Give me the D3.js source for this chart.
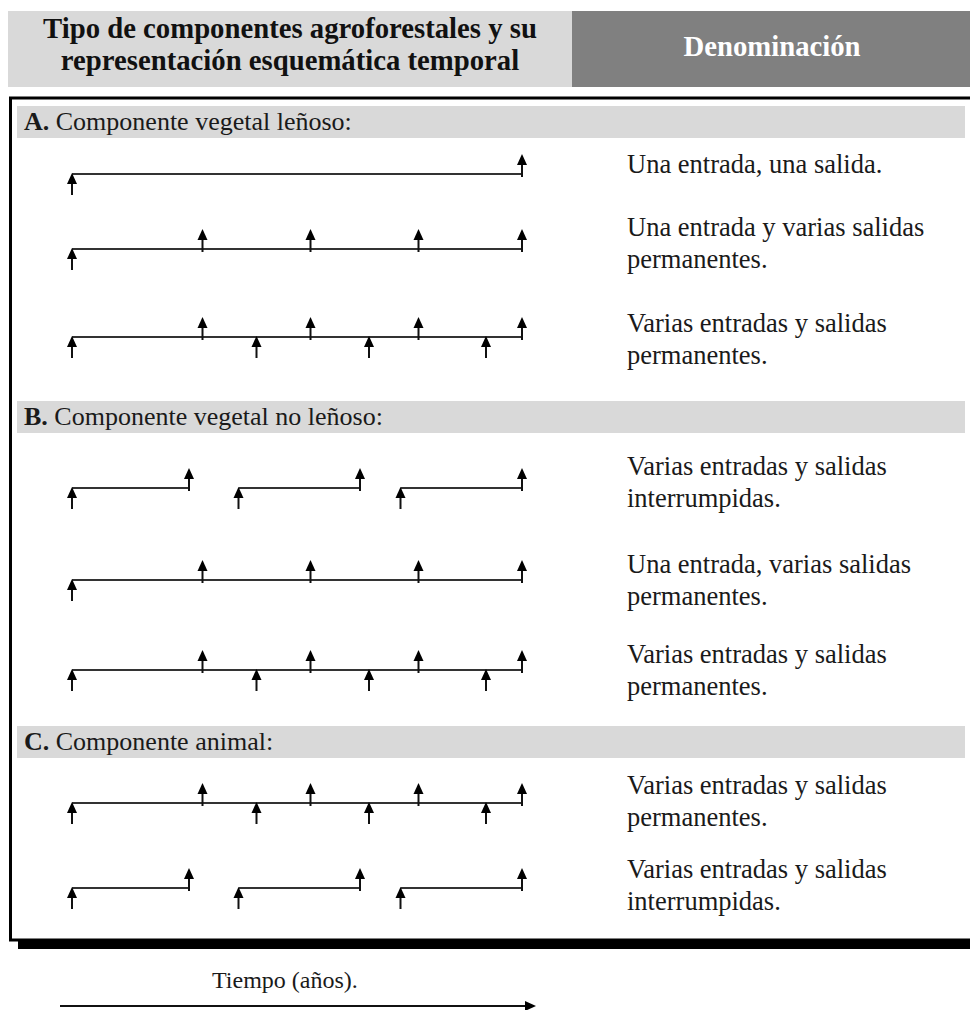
<!DOCTYPE html>
<html><head><meta charset="utf-8">
<script src="https://cdn.jsdelivr.net/npm/d3@7"></script>
<style>html,body{margin:0;padding:0;background:#fff}svg{display:block}</style>
</head><body>
<svg id="chart" width="970" height="1010"></svg>
<script>
// ---------- data ----------
const headerLeft = ["Tipo de componentes agroforestales y su", "representación esquemática temporal"];
const headerRight = "Denominación";
const sectionKeys = ["A.", "B.", "C."];
const sectionTitles = ["Componente vegetal leñoso:", "Componente vegetal no leñoso:", "Componente animal:"];
const rowSection = [0, 0, 0, 1, 1, 1, 2, 2];
const rowSegments = [
  [[0, 100]], [[0, 100]], [[0, 100]],
  [[0, 26], [37, 64], [73, 100]], [[0, 100]], [[0, 100]],
  [[0, 100]], [[0, 26], [37, 64], [73, 100]]
];
const rowEntries = [[0], [0], [0, 41, 66, 92], [0, 37, 73], [0], [0, 41, 66, 92], [0, 41, 66, 92], [0, 37, 73]];
const rowExits = [[100], [29, 53, 77, 100], [29, 53, 77, 100], [26, 64, 100], [29, 53, 77, 100], [29, 53, 77, 100], [29, 53, 77, 100], [26, 64, 100]];
const rowLabels = [
  ["Una entrada, una salida."],
  ["Una entrada y varias salidas", "permanentes."],
  ["Varias entradas y salidas", "permanentes."],
  ["Varias entradas y salidas", "interrumpidas."],
  ["Una entrada, varias salidas", "permanentes."],
  ["Varias entradas y salidas", "permanentes."],
  ["Varias entradas y salidas", "permanentes."],
  ["Varias entradas y salidas", "interrumpidas."]
];
const timeLabel = "Tiempo (años).";
const timeDomain = [0, 100];

// ---------- layout ----------
const rowY = [174, 249, 337, 488, 580, 670, 803, 888];
const rowTextY = [173, 236, 332, 475, 573, 663, 794, 878];
const sectionTop = [106, 401, 726];
const serif = "'Liberation Serif', 'Times New Roman', serif";

const svg = d3.select("#chart");
const x = d3.scaleLinear().domain(timeDomain).range([72, 522]);

// header
svg.append("rect").attr("x", 8).attr("y", 11).attr("width", 564).attr("height", 76).attr("fill", "#d9d9d9");
svg.append("rect").attr("x", 572).attr("y", 11).attr("width", 398).attr("height", 76).attr("fill", "#808080");

function fit(sel, target) {
  const node = sel.node();
  const fs = parseFloat(sel.attr("font-size"));
  const w = node.getComputedTextLength();
  sel.attr("font-size", (fs * target / w).toFixed(2));
}
const h1 = svg.append("text").attr("x", 290).attr("y", 38).attr("text-anchor", "middle")
  .attr("font-family", serif).attr("font-weight", "bold").attr("font-size", 28).attr("fill", "#111")
  .text(headerLeft[0]);
fit(h1, 494);
const hfs = h1.attr("font-size");
svg.append("text").attr("x", 290).attr("y", 70).attr("text-anchor", "middle")
  .attr("font-family", serif).attr("font-weight", "bold").attr("font-size", hfs).attr("fill", "#111")
  .text(headerLeft[1]);
svg.append("text").attr("x", 772).attr("y", 56).attr("text-anchor", "middle")
  .attr("font-family", serif).attr("font-weight", "bold").attr("font-size", hfs).attr("fill", "#fff")
  .text(headerRight);

// box
const bx = 10.5;
svg.append("rect").attr("x", 18).attr("y", 941).attr("width", 952).attr("height", 8).attr("fill", "#000");
svg.append("line").attr("x1", 9).attr("x2", 970).attr("y1", 98).attr("y2", 98).attr("stroke", "#000").attr("stroke-width", 3);
svg.append("line").attr("x1", 9).attr("x2", 970).attr("y1", 940).attr("y2", 940).attr("stroke", "#000").attr("stroke-width", 3);
svg.append("line").attr("x1", bx).attr("x2", bx).attr("y1", 97).attr("y2", 941).attr("stroke", "#000").attr("stroke-width", 3);

// section bands
const sec = svg.selectAll("g.sec").data(sectionKeys).join("g").attr("class", "sec");
sec.append("rect").attr("x", 17).attr("y", (d, i) => sectionTop[i]).attr("width", 948).attr("height", 32).attr("fill", "#d9d9d9");
const st = sec.append("text").attr("x", 24).attr("y", (d, i) => sectionTop[i] + 24)
  .attr("font-family", serif).attr("font-size", 26).attr("fill", "#1a1a1a");
st.append("tspan").attr("font-weight", "bold").text(d => d);
st.append("tspan").text((d, i) => " " + sectionTitles[i]);

// rows
const rows = svg.selectAll("g.row").data(rowSegments.map((s, i) => i)).join("g").attr("class", "row");
rows.each(function (i) {
  const g = d3.select(this);
  const y = rowY[i];
  g.selectAll("line.seg").data(rowSegments[i]).join("line").attr("class", "seg")
    .attr("x1", d => x(d[0])).attr("x2", d => x(d[1])).attr("y1", y).attr("y2", y)
    .attr("stroke", "#333").attr("stroke-width", 2);
  // exits (above line)
  const ex = g.selectAll("g.exit").data(rowExits[i]).join("g").attr("class", "exit")
    .attr("transform", d => `translate(${x(d)},${y})`);
  ex.append("line").attr("x1", 0).attr("x2", 0).attr("y1", 3).attr("y2", -11).attr("stroke", "#111").attr("stroke-width", 2);
  ex.append("path").attr("d", "M0,-20 L5,-9 L-5,-9 Z").attr("fill", "#000");
  // entries (below line)
  const en = g.selectAll("g.entry").data(rowEntries[i]).join("g").attr("class", "entry")
    .attr("transform", d => `translate(${x(d)},${y})`);
  en.append("line").attr("x1", 0).attr("x2", 0).attr("y1", 21).attr("y2", 8).attr("stroke", "#111").attr("stroke-width", 2);
  en.append("path").attr("d", "M0,-1 L5,10 L-5,10 Z").attr("fill", "#000");
  // label
  const t = g.append("text").attr("x", 627).attr("y", rowTextY[i])
    .attr("font-family", serif).attr("font-size", 26.5).attr("fill", "#1a1a1a");
  t.selectAll("tspan").data(rowLabels[i]).join("tspan")
    .attr("x", 627).attr("dy", (d, k) => k === 0 ? 0 : 32).text(d => d);
});

// time axis
svg.append("text").attr("x", 212).attr("y", 988).attr("font-family", serif).attr("font-size", 24).attr("fill", "#1a1a1a").text(timeLabel);
svg.append("line").attr("x1", x(0) - 12).attr("x2", x(100) + 4).attr("y1", 1006).attr("y2", 1006).attr("stroke", "#111").attr("stroke-width", 2);
svg.append("path").attr("d", `M${x(100) + 14},1006 L${x(100) + 3},1001 L${x(100) + 3},1011 Z`).attr("fill", "#000");
</script>
</body></html>
